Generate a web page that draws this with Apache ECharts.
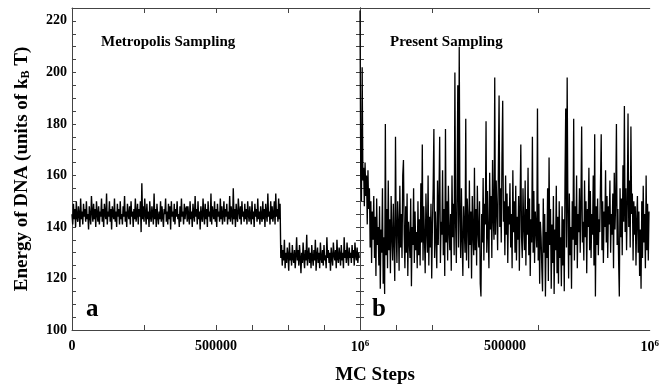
<!DOCTYPE html>
<html>
<head>
<meta charset="utf-8">
<script src="https://cdn.jsdelivr.net/npm/echarts@6/dist/echarts.min.js"></script>
<style>
  html, body { margin: 0; padding: 0; background: #fff; }
  #chart { width: 662px; height: 387px; }
</style>
</head>
<body>
<div id="chart"></div>
<script>
// MC step between two stored samples
const stepSize = 2500

// panel a: Metropolis sampling, energy in kBT
const metropolisEnergy = [
  145, 141, 149, 143, 147, 140, 150, 144, 142, 148, 145, 140, 151, 143, 146, 141, 149, 144, 147, 142,
  150, 143, 145, 139, 148, 144, 141, 152, 146, 142, 149, 143, 147, 140, 150, 145, 142, 148, 141, 146,
  144, 151, 142, 147, 140, 149, 145, 143, 153, 141, 146, 144, 150, 142, 147, 139, 148, 145, 143, 151,
  142, 146, 140, 149, 144, 147, 141, 150, 143, 145, 141, 148, 144, 152, 142, 146, 140, 149, 145, 143,
  148, 141, 150, 144, 146, 140, 147, 143, 151, 142, 145, 149, 141, 147, 144, 150, 138, 157, 143, 148,
  142, 151, 145, 141, 149, 143, 146, 140, 150, 144, 142, 148, 145, 141, 153, 143, 147, 140, 149, 144,
  141, 146, 143, 150, 142, 148, 144, 140, 147, 145, 151, 142, 146, 141, 149, 143, 148, 139, 150, 144,
  146, 142, 149, 141, 147, 144, 150, 143, 145, 140, 148, 142, 151, 144, 146, 141, 149, 143, 147, 148,
  142, 148, 144, 141, 150, 143, 146, 140, 149, 145, 142, 152, 144, 147, 141, 150, 143, 146, 139, 148,
  144, 142, 151, 145, 141, 149, 143, 147, 140, 150, 144, 146, 142, 153, 141, 148, 145, 143, 150, 142,
  147, 140, 149, 144, 146, 142, 151, 143, 148, 141, 145, 150, 142, 147, 144, 149, 141, 146, 143, 152,
  142, 148, 145, 141, 155, 143, 147, 140, 149, 144, 142, 151, 146, 143, 148, 141, 150, 144, 146, 142,
  149, 143, 147, 141, 150, 145, 142, 148, 144, 141, 150, 143, 146, 140, 149, 144, 147, 142, 151, 143,
  146, 141, 148, 144, 142, 150, 143, 147, 140, 149, 145, 142, 153, 144, 146, 141, 150, 143, 148, 142,
  145, 150, 141, 153, 144, 147, 142, 151, 143, 149,
  128, 133, 125, 131, 127, 135, 124, 130, 126, 132, 129, 123, 134, 127, 130, 125, 133, 128, 126, 131,
  124, 129, 136, 127, 131, 125, 133, 128, 122, 130, 126, 134, 128, 124, 131, 127, 137, 125, 129, 132,
  126, 130, 124, 133, 128, 125, 131, 127, 135, 123, 129, 132, 126, 130, 124, 134, 128, 126, 131, 125,
  133, 127, 129, 124, 136, 128, 131, 126, 130, 123, 132, 128, 125, 134, 129, 127, 131, 124, 135, 128,
  126, 132, 129, 125, 133, 127, 130, 124, 136, 128, 131, 126, 134, 129, 125, 132, 128, 130, 126, 133,
  128, 131, 125, 134, 129, 127, 132, 126, 130, 128
]

// panel b: present sampling
const presentEnergy = [
  224, 160, 150, 202, 158, 163, 148, 165, 152, 160, 141, 162, 147, 155, 132, 150, 126, 146, 135, 152,
  128, 144, 121, 151, 133, 140, 125, 148, 116, 139, 130, 155, 118, 136, 114, 180, 129, 147, 124, 158,
  131, 143, 122, 152, 136, 127, 149, 133, 119, 175, 138, 126, 150, 141, 123, 156, 132, 145, 128, 160,
  166, 137, 124, 148, 130, 153, 121, 142, 135, 128, 151, 117, 140, 133, 155, 126, 146, 131, 138, 124,
  150, 129, 143, 125, 157, 134, 172, 127, 148, 136, 122, 153, 139, 130, 160, 125, 144, 132, 149, 120,
  141, 155, 178, 128, 146, 135, 124, 158, 133, 151, 175, 126, 142, 137, 162, 129, 147, 121, 178, 134,
  150, 127, 156, 138, 131, 145, 123, 160, 136, 149, 129, 200, 141, 126, 153, 195, 132, 210, 144, 128,
  155, 135, 121, 148, 139, 130, 182, 127, 151, 143, 124, 158, 133, 146, 120, 152, 137, 129, 163, 131,
  147, 125, 156, 138, 132, 150, 118, 113, 145, 134, 159, 127, 149, 141, 181, 130, 154, 136, 124, 161,
  139, 152, 128, 166, 143, 135, 198, 137, 158, 146, 131, 163, 191, 140, 155, 134, 167, 189, 142, 150,
  129, 160, 137, 153, 126, 148, 141, 157, 132, 145, 124, 162, 138, 150, 130, 156, 127, 144, 135, 152,
  123, 149, 172, 136, 128, 155, 140, 131, 158, 125, 147, 137, 163, 129, 151, 121, 143, 134, 175, 130,
  154, 126, 146, 139, 132, 186, 127, 149, 118, 142, 136, 124, 115, 151, 130, 145, 113, 138, 128, 155,
  119, 167, 133, 147, 116, 141, 126, 152, 114, 139, 131, 156, 122, 144, 118, 150, 128, 136, 117, 148,
  125, 143, 115, 158, 186, 132, 198, 146, 120, 153, 129, 140, 116, 150, 135, 182, 127, 148, 133, 160,
  124, 145, 138, 155, 130, 149, 179, 134, 142, 127, 158, 136, 150, 122, 147, 140, 163, 131, 154, 128,
  145, 137, 160, 125, 176, 113, 148, 133, 151, 129, 143, 138, 157, 176, 131, 150, 126, 146, 140, 162,
  134, 152, 128, 148, 141, 158, 130, 145, 137, 153, 124, 161, 139, 150, 180, 133, 147, 127, 113, 155,
  136, 151, 129, 164, 142, 187, 138, 155, 131, 149, 184, 140, 158, 132, 179, 145, 153, 127, 150, 137,
  148, 125, 143, 152, 130, 146, 121, 139, 116, 150, 128, 156, 134, 145, 124, 160, 131, 149, 127, 146
]

const yLabels = [100, 120, 140, 160, 180, 200, 220]
const leftXLabels = [0, 500000, 1000000]
const rightXLabels = [500000, 1000000]
const leftXTicks = [250000, 500000, 625000, 750000, 875000]
const leftTopTicks = [250000, 500000, 750000]
const rightXTicks = [125000, 250000, 615000]
const rightTopTicks = [250000, 615000]

const font = 'Liberation Serif'
const frameColor = '#444'

const chart = echarts.init(document.getElementById('chart'), null, { renderer: 'canvas' })

const toPairs = arr => arr.map((v, i) => [i * stepSize, v])

const xLabelFmt = v => (v === 1000000 ? '10{sup|6}' : String(v))
const xLabelStyle = values => ({
  customValues: values,
  fontFamily: font,
  fontWeight: 'bold',
  fontSize: 14,
  color: '#000',
  margin: 9,
  formatter: xLabelFmt,
  rich: {
    sup: { fontFamily: font, fontWeight: 'bold', fontSize: 9, verticalAlign: 'top', padding: [0, 0, 8, 0] }
  }
})

const bottomAxis = (grid, labels, ticks) => ({
  type: 'value',
  gridIndex: grid,
  min: 0,
  max: 1000000,
  position: 'bottom',
  axisLine: { show: true, lineStyle: { color: frameColor } },
  axisTick: { show: true, inside: true, length: 5, customValues: ticks, lineStyle: { color: frameColor } },
  axisLabel: xLabelStyle(labels),
  splitLine: { show: false }
})

const topAxis = (grid, ticks) => ({
  type: 'value',
  gridIndex: grid,
  min: 0,
  max: 1000000,
  position: 'top',
  axisLine: { show: true, lineStyle: { color: frameColor } },
  axisTick: { show: true, inside: true, length: 5, customValues: ticks, lineStyle: { color: frameColor } },
  axisLabel: { show: false },
  splitLine: { show: false }
})

const energyAxis = (grid, position, showLabels) => ({
  type: 'value',
  gridIndex: grid,
  min: 100,
  max: 225,
  interval: 5,
  position: position,
  axisLine: { show: true, lineStyle: { color: position === 'left' && grid === 1 ? '#111' : frameColor } },
  axisTick: { show: true, inside: true, length: 4, lineStyle: { color: frameColor } },
  axisLabel: showLabels
    ? { customValues: yLabels, fontFamily: font, fontWeight: 'bold', fontSize: 14, color: '#000', margin: 5 }
    : { show: false },
  splitLine: { show: false }
})

const yLeft = energyAxis(0, 'left', true)
yLeft.name = 'Energy of DNA (units of k{sub|B} T)'
yLeft.nameLocation = 'middle'
yLeft.nameGap = 40
yLeft.nameTextStyle = {
  fontFamily: font,
  fontWeight: 'bold',
  fontSize: 19,
  color: '#000',
  rich: {
    sub: { fontFamily: font, fontWeight: 'bold', fontSize: 12, verticalAlign: 'bottom', padding: [8, 0, 0, 0] }
  }
}

const option = {
  animation: false,
  backgroundColor: '#fff',
  grid: [
    { left: 72, right: 302, top: 8, bottom: 57 },
    { left: 360, right: 8, top: 8, bottom: 57 }
  ],
  xAxis: [
    bottomAxis(0, leftXLabels, leftXTicks),
    topAxis(0, leftTopTicks),
    bottomAxis(1, rightXLabels, rightXTicks),
    topAxis(1, rightTopTicks)
  ],
  yAxis: [
    yLeft,
    energyAxis(1, 'left', false),
    energyAxis(1, 'right', false)
  ],
  series: [
    {
      type: 'line',
      xAxisIndex: 0,
      yAxisIndex: 0,
      data: toPairs(metropolisEnergy),
      showSymbol: false,
      symbol: 'none',
      lineStyle: { color: '#000', width: 1.4 },
      z: 1
    },
    {
      type: 'line',
      xAxisIndex: 2,
      yAxisIndex: 1,
      data: toPairs(presentEnergy),
      showSymbol: false,
      symbol: 'none',
      lineStyle: { color: '#000', width: 1.3 },
      z: 1
    }
  ],
  graphic: [
    { type: 'text', left: 101, top: 35, style: { text: 'Metropolis Sampling', font: 'bold 15px "Liberation Serif"', fill: '#000' } },
    { type: 'text', left: 390, top: 35, style: { text: 'Present Sampling', font: 'bold 15px "Liberation Serif"', fill: '#000' } },
    { type: 'text', left: 86, top: 297, style: { text: 'a', font: 'bold 25px "Liberation Serif"', fill: '#000' } },
    { type: 'text', left: 372, top: 297, style: { text: 'b', font: 'bold 25px "Liberation Serif"', fill: '#000' } },
    { type: 'text', x: 375, y: 375, style: { text: 'MC Steps', font: 'bold 19px "Liberation Serif"', fill: '#000', align: 'center', verticalAlign: 'middle' } }
  ]
}

chart.setOption(option)

window.addEventListener('resize', () => {
  chart && chart.resize()
})
</script>
</body>
</html>
